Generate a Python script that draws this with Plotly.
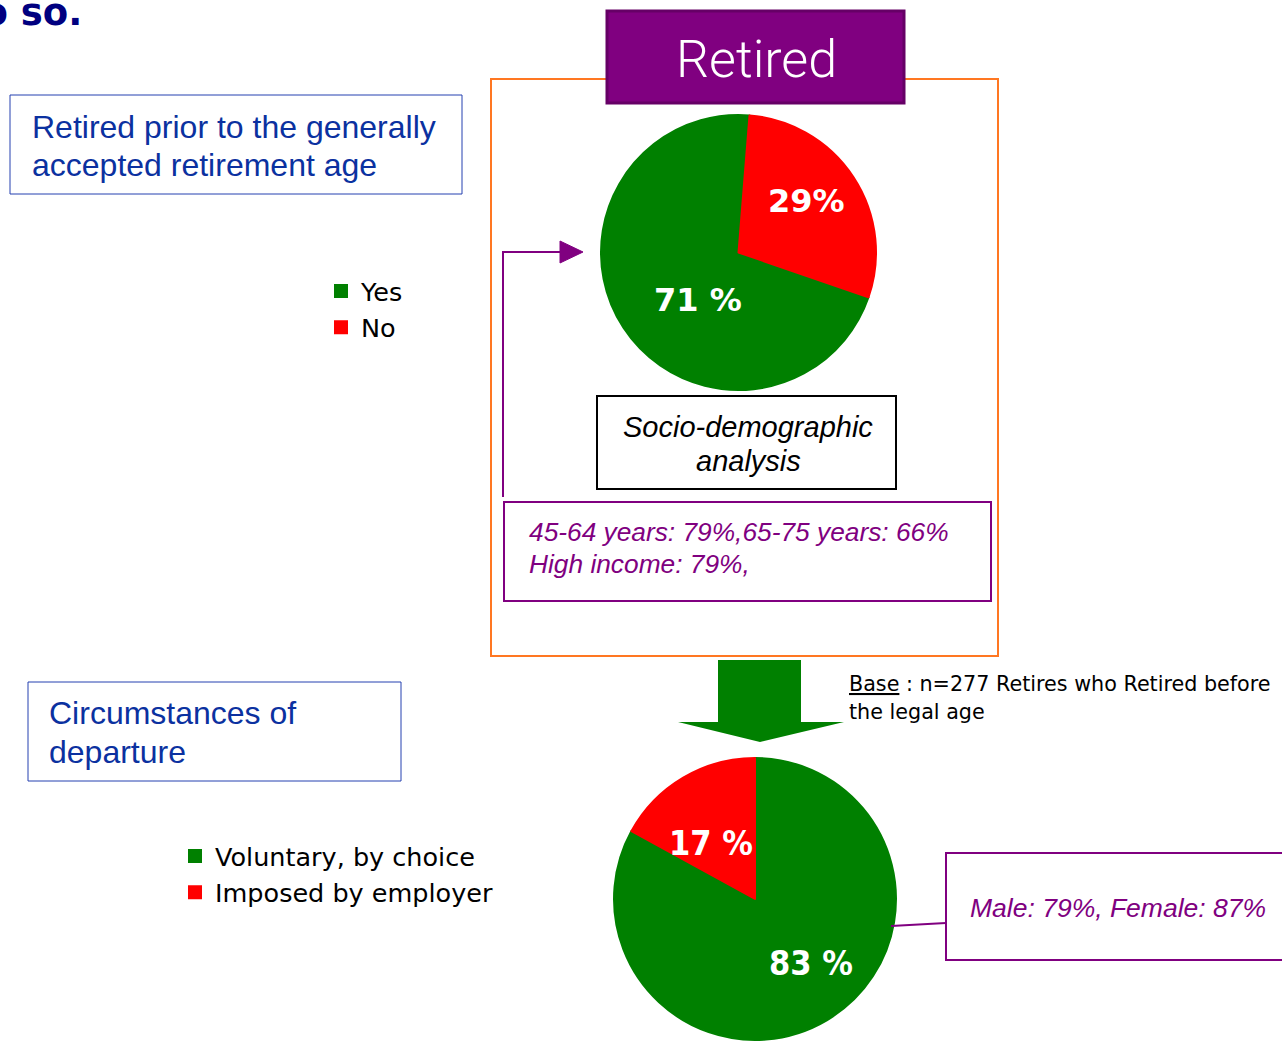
import plotly.graph_objects as go

# data
top_labels = ["Yes", "No"]
top_values = [71, 29]
top_text = ["71 %", "29%"]

bottom_labels = ["Voluntary, by choice", "Imposed by employer"]
bottom_values = [83, 17]
bottom_text = ["83 %", "17 %"]

slice_colors = ["#008000", "#FF0000"]

W, H = 1282, 1041

fig = go.Figure()

# top pie: retired before legal age
fig.add_trace(go.Pie(
    labels=top_labels, values=top_values, textinfo="none",
    marker=dict(colors=slice_colors, line=dict(width=2, color=slice_colors)),
    sort=False, direction="clockwise", rotation=109,
    domain=dict(x=[601 / W, 876 / W], y=[(H - 390) / H, (H - 115) / H]),
    legend="legend", hoverinfo="label+percent",
))

# bottom pie: circumstances of departure
fig.add_trace(go.Pie(
    labels=bottom_labels, values=bottom_values, textinfo="none",
    marker=dict(colors=slice_colors, line=dict(width=2, color=slice_colors)),
    sort=False, direction="clockwise", rotation=0,
    domain=dict(x=[614 / W, 896 / W], y=[0.001, (H - 758) / H]),
    legend="legend2", hoverinfo="label+percent",
))

purple = "#800080"
blue = "#0B31A0"

shapes = [
    # orange frame
    dict(type="rect", x0=491, x1=998, y0=79, y1=656, line=dict(color="#FF7722", width=2)),
    # Retired header
    dict(type="rect", x0=607, x1=904, y0=11, y1=103, fillcolor=purple, line=dict(color="#660066", width=3)),
    # question box
    dict(type="rect", x0=10, x1=462, y0=95, y1=194, line=dict(color="#2540B0", width=1)),
    # circumstances box
    dict(type="rect", x0=28, x1=401, y0=682, y1=781, line=dict(color="#2540B0", width=1)),
    # socio-demographic box
    dict(type="rect", x0=597, x1=896, y0=396, y1=489, line=dict(color="black", width=2)),
    # age / income box
    dict(type="rect", x0=504, x1=991, y0=502, y1=601, line=dict(color=purple, width=2)),
    # gender box
    dict(type="rect", x0=946, x1=1290, y0=853, y1=960, line=dict(color=purple, width=2)),
    # connector
    dict(type="line", x0=891, y0=926, x1=946, y1=923, line=dict(color=purple, width=2)),
    # purple bracket arrow
    dict(type="path", path="M 503 497 L 503 252 L 562 252", line=dict(color=purple, width=2)),
    dict(type="path", path="M 560 241 L 583 252 L 560 263 Z", fillcolor=purple, line=dict(color=purple, width=1)),
    # green down arrow
    dict(type="path", path="M 718 660 L 801 660 L 801 722 L 844 722 L 760 742 L 678 722 L 718 722 Z",
         fillcolor="#008000", line=dict(width=0)),
]

annotations = [
    dict(x=84, y=12, text="<b>do so.</b>", xanchor="right",
         font=dict(family="DejaVu Sans", size=37, color="#000080")),
    dict(x=756, y=59, text="Retired", xanchor="center",
         font=dict(family="Roboto", size=52, color="white", weight=300)),
]


def text_lines(lines, x, ys, xanchor, font):
    for line, y in zip(lines, ys):
        annotations.append(dict(x=x, y=y, text=line, xanchor=xanchor, font=font))


text_lines(["Retired prior to the generally", "accepted retirement age"], 30, [127, 165], "left",
           dict(family="Liberation Sans", size=32, color=blue))
text_lines(["Circumstances of", "departure"], 47, [713, 752], "left",
           dict(family="Liberation Sans", size=32, color=blue))
text_lines(["<i>Socio-demographic</i>", "<i>analysis</i>"], 748, [427, 461], "center",
           dict(family="Liberation Sans", size=29, color="black"))
text_lines(["<i>45-64 years: 79%,65-75 years: 66%</i>", "<i>High income: 79%,</i>"], 527, [532, 564], "left",
           dict(family="Liberation Sans", size=26.3, color=purple))
text_lines(["<i>Male: 79%, Female: 87%</i>"], 968, [908], "left",
           dict(family="Liberation Sans", size=26.5, color=purple))
text_lines(["<u>Base</u> : n=277 Retires who Retired before", "the legal age"], 847, [684, 712], "left",
           dict(family="DejaVu Sans", size=20.7, color="black"))

# slice labels
top_label_pos = [(698, 300), (806, 201)]
bottom_label_pos = [(811, 963), (711, 843)]
for t, (x, y) in zip(top_text, top_label_pos):
    annotations.append(dict(x=x, y=y, text="<b>" + t + "</b>", xanchor="center",
                            font=dict(family="DejaVu Sans", size=32, color="white")))
for t, (x, y) in zip(bottom_text, bottom_label_pos):
    annotations.append(dict(x=x, y=y, text="<b>" + t + "</b>", xanchor="center",
                            font=dict(family="DejaVu Sans Condensed", size=34, color="white")))

for a in annotations:
    a.update(xref="x", yref="y", yanchor="middle", showarrow=False)
for s in shapes:
    s.update(xref="x", yref="y", layer="above" if s["type"] != "rect" else "below")

fig.update_layout(
    width=W, height=H,
    margin=dict(l=0, r=0, t=0, b=0),
    paper_bgcolor="white", plot_bgcolor="white",
    xaxis=dict(range=[0, W], visible=False, fixedrange=True),
    yaxis=dict(range=[H, 0], visible=False, fixedrange=True),
    shapes=shapes, annotations=annotations,
    legend=dict(x=321 / W, y=1 - 268 / H, xanchor="left", yanchor="top", bgcolor="rgba(0,0,0,0)",
                font=dict(family="DejaVu Sans", size=25.5, color="black")),
    legend2=dict(x=175 / W, y=1 - 833 / H, xanchor="left", yanchor="top", bgcolor="rgba(0,0,0,0)",
                 font=dict(family="DejaVu Sans", size=25.5, color="black")),
)

fig.write_html("out.html", config={"displayModeBar": False},
               post_script="document.body.style.margin='0';")
